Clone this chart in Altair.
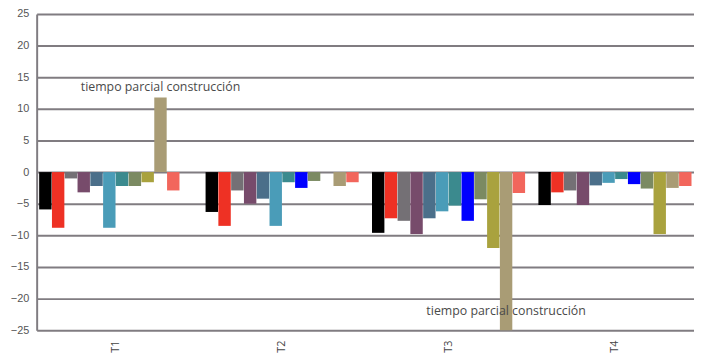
import altair as alt
import pandas as pd

groups = ["T1", "T2", "T3", "T4"]
series = ["S1", "S2", "S3", "S4", "S5", "S6", "S7", "S8", "S9", "S10", "S11", "S12"]
colors = ["#000000", "#ee3124", "#747075", "#774b6b", "#4b6f8a", "#4a9cb8",
          "#3b8a8e", "#0000ff", "#7b8a62", "#a9a23e", "#a99c75", "#f2665c"]

s1 = [-5.9, -6.3, -9.6, -5.2]
s2 = [-8.8, -8.5, -7.3, -3.2]
s3 = [-1.0, -2.9, -7.7, -2.9]
s4 = [-3.2, -5.0, -9.8, -5.2]
s5 = [-2.2, -4.2, -7.3, -2.1]
s6 = [-8.8, -8.5, -6.2, -1.7]
s7 = [-2.2, -1.6, -5.3, -1.1]
s8 = [None, -2.5, -7.7, -1.9]
s9 = [-2.2, -1.4, -4.3, -2.6]
s10 = [-1.6, 0.0, -12.0, -9.8]
s11 = [11.8, -2.2, -25.0, -2.5]
s12 = [-2.9, -1.6, -3.3, -2.2]
all_series = [s1, s2, s3, s4, s5, s6, s7, s8, s9, s10, s11, s12]
y_ticks = [-25, -20, -15, -10, -5, 0, 5, 10, 15, 20, 25]

note_text = "tiempo parcial construcción"
note_groups = ["T1", "T3"]
note_series = "S11"

rows = []
for gi, g in enumerate(groups):
    slot = 0
    for si, s in enumerate(series):
        v = all_series[si][gi]
        if v is None:
            continue
        rows.append({"group": g, "series": s, "slot": slot, "value": v})
        slot += 1
df = pd.DataFrame(rows)

grid = "#807c81"
x = alt.X("group:N", sort=groups, title=None,
          scale=alt.Scale(paddingInner=0.08, paddingOuter=0.015),
          axis=alt.Axis(labelAngle=270, domain=False, ticks=False, grid=False,
                        labelPadding=10, labelFont="Open Sans", labelFontSize=11,
                        labelColor="#444444"))
xo = alt.XOffset("slot:O", scale=alt.Scale(domain=list(range(12)), paddingInner=0.03))

y = alt.Y("value:Q", title=None,
          scale=alt.Scale(domain=[-25, 25], nice=False),
          axis=alt.Axis(values=y_ticks, tickCount=len(y_ticks), ticks=False, labelPadding=8,
                        labelOverlap=False,
                        gridColor=grid, gridWidth=2, domainColor=grid, domainWidth=2,
                        labelFont="Liberation Sans", labelFontSize=11,
                        labelColor="#555555"))

bars = alt.Chart(df).mark_bar().encode(
    x=x, xOffset=xo, y=y,
    color=alt.Color("series:N", scale=alt.Scale(domain=series, range=colors), legend=None),
)

notes = df[(df.series == note_series) & (df.group.isin(note_groups))]
top_note = alt.Chart(notes[notes.value > 0]).mark_text(
    baseline="bottom", dy=-4, font="Open Sans", fontSize=12.5, color="#4a4a4a"
).encode(x=x, xOffset=xo, y=y, text=alt.value(note_text))
bot_note = alt.Chart(notes[notes.value < 0]).mark_text(
    baseline="bottom", dy=-12, font="Open Sans", fontSize=12.5, color="#4a4a4a"
).encode(x=x, xOffset=xo, y=y, text=alt.value(note_text))

chart = alt.layer(bars, top_note, bot_note).properties(
    width=665, height=320,
    autosize=alt.AutoSizeParams(type="none"),
    padding={"left": 29, "top": 4, "right": 0, "bottom": 22},
).configure_view(stroke=None)

chart.save("out.html", embed_options={"renderer": "svg", "actions": False})
